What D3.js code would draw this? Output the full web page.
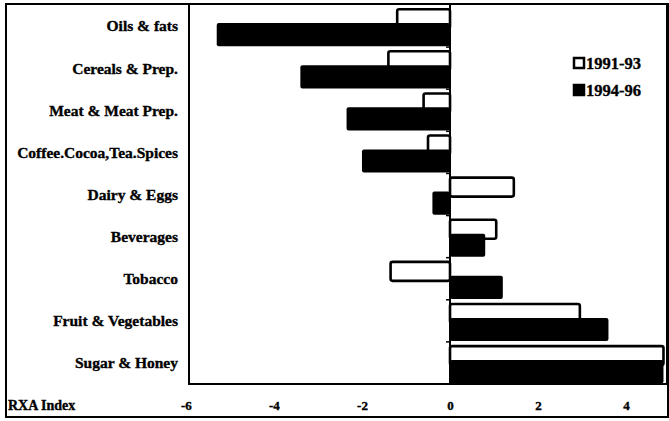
<!DOCTYPE html>
<html>
<head>
<meta charset="utf-8">
<script src="https://cdn.jsdelivr.net/npm/d3@7"></script>
<style>
  html, body { margin: 0; padding: 0; background: #fff; }
  svg { display: block; }
  text { font-family: "Liberation Serif", "DejaVu Serif", serif; font-weight: bold; fill: #000; stroke: #000; stroke-width: 0.35px; }
</style>
</head>
<body>
<svg id="chart" width="669" height="421"></svg>
<script>
// Revealed comparative advantage by product group
const categories = [
  "Oils & fats",
  "Cereals & Prep.",
  "Meat & Meat Prep.",
  "Coffee.Cocoa,Tea.Spices",
  "Dairy & Eggs",
  "Beverages",
  "Tobacco",
  "Fruit & Vegetables",
  "Sugar & Honey"
];
const series = ["1991-93", "1994-96"];
const rxa9193 = [-1.2, -1.4, -0.6, -0.5, 1.45, 1.05, -1.35, 2.95, 4.85];
const rxa9496 = [-5.3, -3.4, -2.35, -2.0, -0.4, 0.8, 1.2, 3.6, 4.85];
const xTicks = [-6, -4, -2, 0, 2, 4];
const xTitle = "RXA Index";

const svg = d3.select("#chart");

// Frame geometry
const outer = { left: 6, top: 4, right: 668, bottom: 417 };
const plot = { left: 189, top: 4, right: 667, bottom: 384 };

const x = d3.scaleLinear().domain([-5.93, 4.93]).range([plot.left, plot.right]);
const y = d3.scaleBand().domain(categories).range([plot.top + 1, plot.bottom]);
const bw = y.bandwidth();

// Outer frame
svg.append("rect")
  .attr("x", outer.left).attr("y", outer.top)
  .attr("width", outer.right - outer.left).attr("height", outer.bottom - outer.top)
  .attr("fill", "none").attr("stroke", "#000").attr("stroke-width", 2);

// Plot frame
svg.append("rect")
  .attr("x", plot.left).attr("y", plot.top)
  .attr("width", plot.right - plot.left).attr("height", plot.bottom - plot.top)
  .attr("fill", "#fff").attr("stroke", "#000").attr("stroke-width", 2);

const rows = categories.map((c, i) => ({ c, a: rxa9193[i], b: rxa9496[i] }));

// 1991-93 bars (outlined), drawn first so the later period overlaps them
svg.append("g").selectAll("rect").data(rows).join("rect")
  .attr("x", d => x(Math.min(0, d.a)))
  .attr("width", d => Math.abs(x(d.a) - x(0)))
  .attr("y", d => y(d.c) + bw * 0.1)
  .attr("height", bw * 0.45)
  .attr("rx", 2)
  .attr("fill", "#fff").attr("stroke", "#000").attr("stroke-width", 2.6);

// 1994-96 bars (solid)
svg.append("g").selectAll("rect").data(rows).join("rect")
  .attr("x", d => x(Math.min(0, d.b)))
  .attr("width", d => Math.abs(x(d.b) - x(0)))
  .attr("y", d => y(d.c) + bw * 0.43)
  .attr("height", bw * 0.55)
  .attr("rx", 2)
  .attr("fill", "#000");

// Zero line with category separators
svg.append("line")
  .attr("x1", x(0)).attr("x2", x(0))
  .attr("y1", plot.top).attr("y2", plot.bottom)
  .attr("stroke", "#000").attr("stroke-width", 2);
svg.append("g").selectAll("line").data(categories.slice(1)).join("line")
  .attr("x1", x(0) - 4).attr("x2", x(0))
  .attr("y1", d => y(d)).attr("y2", d => y(d))
  .attr("stroke", "#000").attr("stroke-width", 1.5);

// Category labels
svg.append("g").selectAll("text").data(categories).join("text")
  .attr("x", 178)
  .attr("y", d => y(d) + bw / 2)
  .attr("dy", "0.35em")
  .attr("text-anchor", "end")
  .attr("font-size", 15.5)
  .text(d => d);

// X axis labels
const xAxis = d3.axisBottom(x).tickValues(xTicks).tickSize(0).tickPadding(0)
  .tickFormat(d3.format("d"));
const gx = svg.append("g").attr("transform", `translate(0, ${plot.bottom + 17})`).call(xAxis);
gx.select(".domain").remove();
gx.selectAll("text")
  .attr("font-size", 13)
  .attr("font-family", "Liberation Serif, serif")
  .attr("font-weight", "bold")
  .attr("fill", "#000")
  .text(d => d < 0 ? "-" + Math.abs(d) : d);

svg.append("text")
  .attr("x", 8).attr("y", 410)
  .attr("font-size", 14)
  .text(xTitle);

// Legend
const legend = svg.append("g").attr("transform", "translate(573, 57)");
series.forEach((s, i) => {
  const g = legend.append("g").attr("transform", `translate(0, ${i * 27})`);
  g.append("rect")
    .attr("x", 1).attr("y", 1).attr("width", 10).attr("height", 10)
    .attr("fill", i === 0 ? "#fff" : "#000")
    .attr("stroke", "#000").attr("stroke-width", 2.5);
  g.append("text")
    .attr("x", 13).attr("y", 6).attr("dy", "0.35em")
    .attr("font-size", 16.5)
    .text(s);
});
</script>
</body>
</html>
